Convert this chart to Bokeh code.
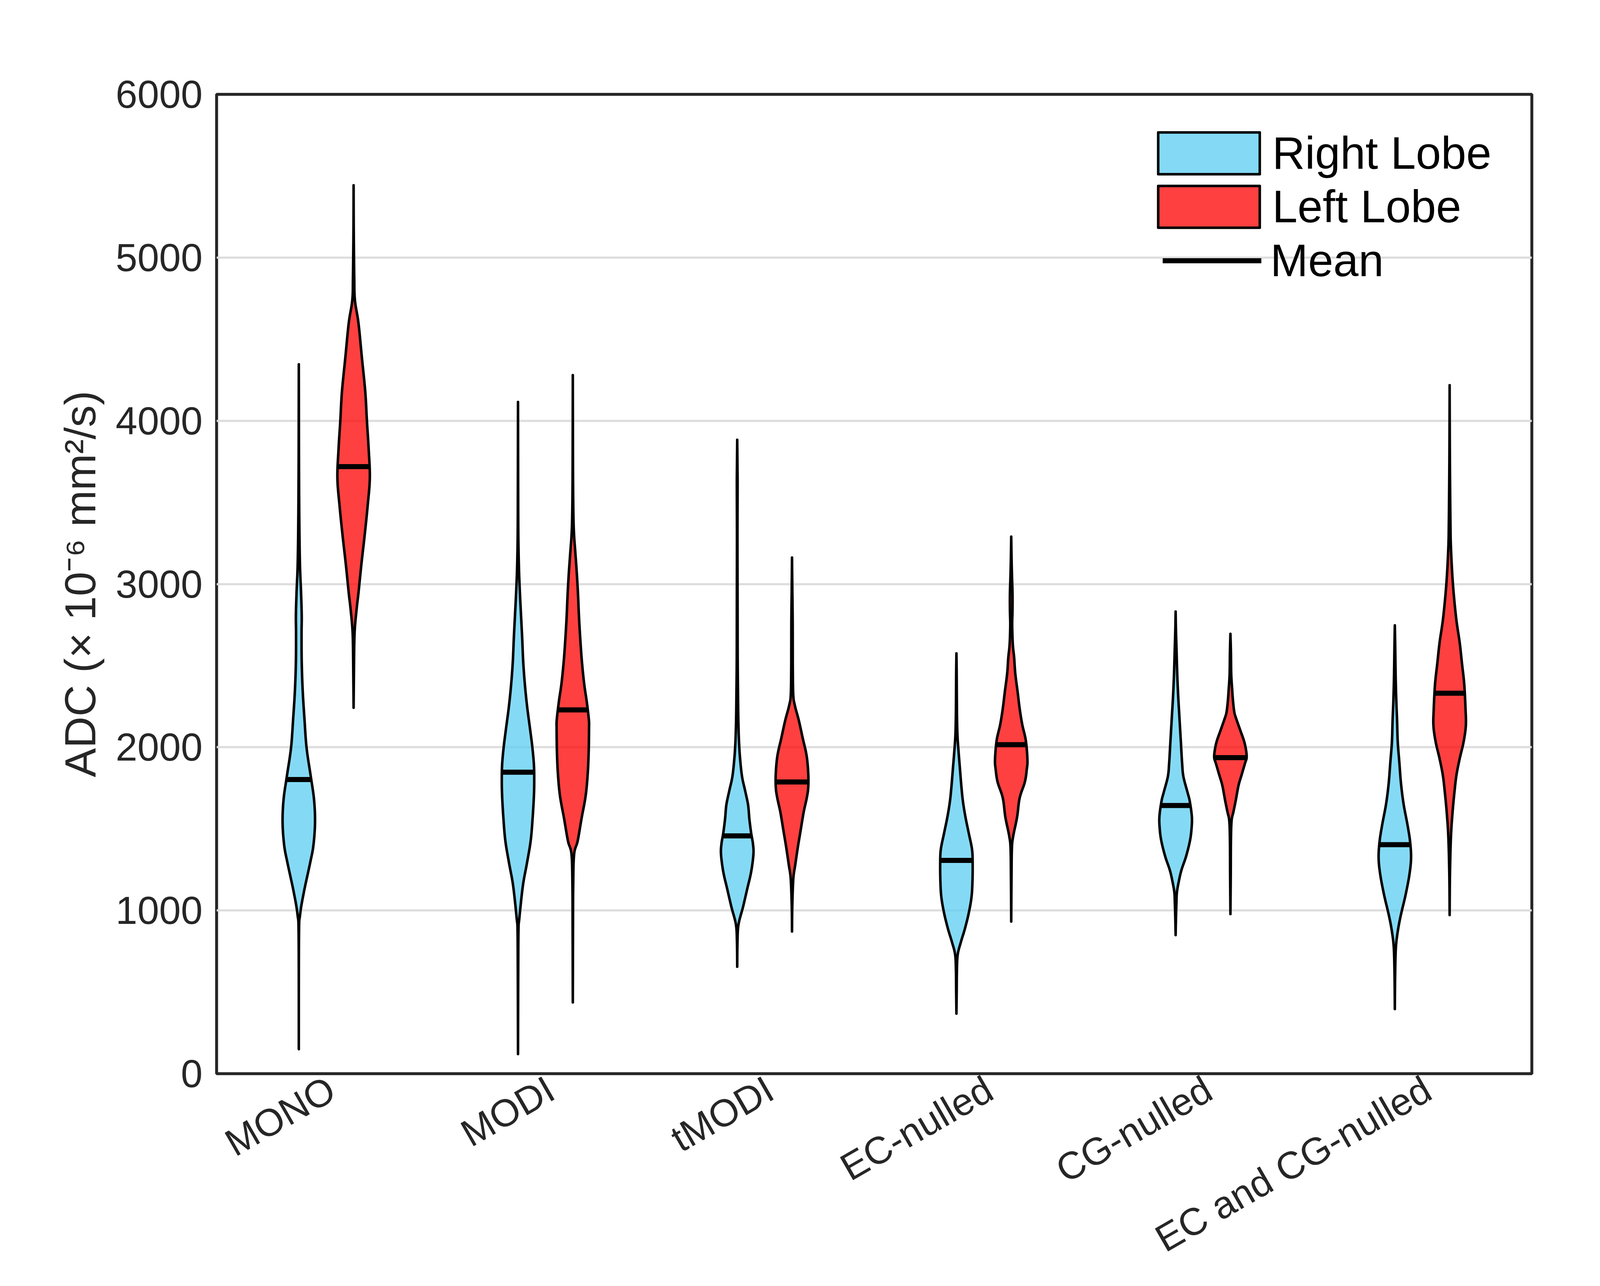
import math
import numpy as np
from bokeh.plotting import figure
from bokeh.models import Range1d, FixedTicker, Legend, LegendItem
from bokeh.embed import file_html
from bokeh.resources import INLINE

# ---------------- data ----------------
categories = ["MONO", "MODI", "tMODI", "EC-nulled", "CG-nulled", "EC and CG-nulled"]
positions = [1, 2, 3, 4, 5, 6]

right_means = [1802, 1847, 1457, 1307, 1643, 1403]
left_means = [3719, 2229, 1787, 2016, 1936, 2331]

# violin outlines: ADC values and relative density (1 = widest point)
right_lobe_adc = [
    [150, 835, 975, 1116, 1292, 1398, 1538, 1679, 1820, 1996, 2172, 2347, 2523, 2699, 2805, 2945, 3086, 3227, 3403, 3614, 3825, 4106, 4346],
    [120, 600, 880, 950, 1151, 1289, 1426, 1564, 1701, 1798, 1894, 2004, 2114, 2251, 2389, 2526, 2664, 2801, 2939, 3076, 3214, 3351, 3626, 4115],
    [655, 806, 914, 1022, 1129, 1237, 1345, 1409, 1474, 1560, 1647, 1733, 1819, 1927, 2034, 2164, 2315, 2530, 2853, 3284, 3608, 3716, 3884],
    [368, 495, 632, 730, 808, 887, 984, 1082, 1180, 1297, 1376, 1474, 1571, 1669, 1767, 1865, 1963, 2061, 2159, 2315, 2452, 2575],
    [849, 948, 1050, 1112, 1180, 1248, 1330, 1425, 1500, 1575, 1670, 1725, 1820, 1902, 2038, 2174, 2311, 2447, 2583, 2719, 2831],
    [396, 586, 764, 865, 967, 1094, 1220, 1322, 1423, 1525, 1652, 1778, 1905, 2032, 2159, 2286, 2438, 2615, 2747],
]
right_lobe_density = [
    [0, 0.01, 0.08, 0.32, 0.70, 0.90, 1.0, 0.94, 0.74, 0.48, 0.35, 0.24, 0.18, 0.17, 0.18, 0.14, 0.08, 0.05, 0.03, 0.016, 0.008, 0.004, 0],
    [0, 0.012, 0.03, 0.08, 0.30, 0.55, 0.78, 0.90, 0.98, 1.0, 0.98, 0.88, 0.74, 0.56, 0.42, 0.32, 0.26, 0.19, 0.12, 0.064, 0.032, 0.016, 0.008, 0],
    [0, 0.016, 0.08, 0.36, 0.61, 0.86, 1.0, 0.97, 0.86, 0.75, 0.67, 0.49, 0.30, 0.18, 0.11, 0.07, 0.05, 0.03, 0.024, 0.016, 0.024, 0.016, 0],
    [0, 0.016, 0.03, 0.08, 0.28, 0.52, 0.76, 0.93, 0.99, 1.0, 0.96, 0.76, 0.56, 0.40, 0.30, 0.22, 0.14, 0.07, 0.04, 0.024, 0.016, 0],
    [0, 0.02, 0.05, 0.08, 0.20, 0.36, 0.64, 0.88, 0.98, 1.0, 0.87, 0.73, 0.48, 0.40, 0.32, 0.24, 0.16, 0.10, 0.06, 0.02, 0],
    [0, 0.016, 0.06, 0.17, 0.36, 0.66, 0.90, 1.0, 0.94, 0.78, 0.54, 0.38, 0.28, 0.18, 0.14, 0.09, 0.05, 0.024, 0],
]
left_lobe_adc = [
    [2242, 2453, 2629, 2734, 2860, 2945, 3121, 3297, 3473, 3649, 3825, 4001, 4177, 4388, 4599, 4740, 4880, 5162, 5443],
    [437, 877, 1151, 1344, 1426, 1564, 1701, 1839, 1976, 2114, 2169, 2279, 2389, 2526, 2664, 2801, 2939, 3076, 3214, 3296, 3406, 3626, 4038, 4280],
    [871, 1022, 1194, 1280, 1388, 1496, 1603, 1690, 1754, 1841, 1948, 2056, 2164, 2250, 2315, 2466, 2638, 2789, 2961, 3162],
    [932, 1180, 1376, 1454, 1571, 1689, 1787, 1865, 1924, 2041, 2139, 2237, 2335, 2452, 2550, 2628, 2746, 2843, 2941, 3039, 3137, 3290],
    [978, 1221, 1425, 1548, 1602, 1670, 1766, 1834, 1902, 1936, 1984, 2038, 2106, 2174, 2215, 2283, 2351, 2447, 2583, 2695],
    [972, 1220, 1449, 1601, 1728, 1829, 1930, 2032, 2133, 2235, 2387, 2514, 2641, 2793, 3004, 3224, 3376, 3630, 3884, 4218],
]
left_lobe_density = [
    [0, 0.02, 0.04, 0.08, 0.20, 0.30, 0.48, 0.68, 0.86, 1.0, 0.93, 0.82, 0.72, 0.51, 0.30, 0.08, 0.04, 0.01, 0],
    [0, 0.012, 0.024, 0.08, 0.30, 0.54, 0.79, 0.92, 0.98, 1.0, 0.99, 0.86, 0.70, 0.56, 0.46, 0.38, 0.32, 0.24, 0.14, 0.08, 0.04, 0.016, 0.004, 0],
    [0, 0.016, 0.08, 0.20, 0.36, 0.54, 0.72, 0.91, 1.0, 1.0, 0.90, 0.66, 0.42, 0.19, 0.08, 0.05, 0.045, 0.04, 0.02, 0],
    [0, 0.016, 0.04, 0.12, 0.36, 0.52, 0.84, 0.96, 1.0, 0.90, 0.68, 0.52, 0.40, 0.25, 0.18, 0.10, 0.06, 0.08, 0.08, 0.05, 0.025, 0],
    [0, 0.02, 0.03, 0.07, 0.18, 0.32, 0.50, 0.70, 0.90, 1.0, 0.96, 0.84, 0.60, 0.36, 0.24, 0.16, 0.11, 0.05, 0.03, 0],
    [0, 0.02, 0.08, 0.18, 0.30, 0.42, 0.62, 0.86, 1.0, 0.98, 0.90, 0.76, 0.62, 0.40, 0.20, 0.08, 0.05, 0.025, 0.01, 0],
]

# ---------------- styling constants ----------------
OFFSET = 0.125        # dodge of each lobe from the category centre
HALF_WIDTH = 0.074    # half width of the widest point of every violin
LABEL_SHIFT = 0.025   # nudge of the (invisible) x ticks so rotated labels sit like the original
RIGHT_COLOR = "#5BCDF1"
LEFT_COLOR = "#FF0000"
FONT = "Liberation Sans"
DARK = "#262626"


def smooth_profile(ys, ws, n=12):
    """Catmull-Rom pass through the read points for a smooth outline."""
    pts = np.column_stack([np.asarray(ys, float), np.asarray(ws, float)])
    m = len(pts)
    out = []
    for i in range(m - 1):
        p0 = pts[max(i - 1, 0)]
        p1 = pts[i]
        p2 = pts[i + 1]
        p3 = pts[min(i + 2, m - 1)]
        for t in np.linspace(0, 1, n, endpoint=False):
            q = 0.5 * ((2 * p1) + (-p0 + p2) * t + (2 * p0 - 5 * p1 + 4 * p2 - p3) * t ** 2
                       + (-p0 + 3 * p1 - 3 * p2 + p3) * t ** 3)
            out.append(q)
    out.append(pts[-1])
    out = np.array(out)
    out[:, 1] = np.clip(out[:, 1], 0, None)
    return out[:, 0], out[:, 1]


def violins(adc_lists, dens_lists, means, shift):
    xs, ys, mx0, mx1, my = [], [], [], [], []
    for pos, adc, dens, mean in zip(positions, adc_lists, dens_lists, means):
        c = pos + shift
        y, w = smooth_profile(adc, dens)
        hw = w * HALF_WIDTH
        xs.append(np.concatenate([c - hw, (c + hw)[::-1]]))
        ys.append(np.concatenate([y, y[::-1]]))
        mhw = float(np.interp(mean, y, w)) * HALF_WIDTH
        mx0.append(c - mhw)
        mx1.append(c + mhw)
        my.append(mean)
    return xs, ys, mx0, mx1, my


r_xs, r_ys, r_mx0, r_mx1, r_my = violins(right_lobe_adc, right_lobe_density, right_means, -OFFSET)
l_xs, l_ys, l_mx0, l_mx1, l_my = violins(left_lobe_adc, left_lobe_density, left_means, OFFSET)

# ---------------- figure ----------------
p = figure(width=4317, height=3276,
           x_range=Range1d(0.5, 6.5), y_range=Range1d(0, 6000),
           output_backend="svg", toolbar_location=None,
           min_border_left=554, min_border_top=241,
           min_border_right=396, min_border_bottom=508)

p.background_fill_color = "white"
p.border_fill_color = "white"
p.outline_line_color = DARK
p.outline_line_width = 7.5

p.xgrid.visible = False
p.ygrid.grid_line_color = "#dddddd"
p.ygrid.grid_line_width = 5.5

r_right = p.patches(r_xs, r_ys, fill_color=RIGHT_COLOR, fill_alpha=0.75,
                    line_color="black", line_width=6.5, line_join="round")
r_left = p.patches(l_xs, l_ys, fill_color=LEFT_COLOR, fill_alpha=0.75,
                   line_color="black", line_width=6.5, line_join="round")
r_mean = p.segment(x0=r_mx0 + l_mx0, x1=r_mx1 + l_mx1, y0=r_my + l_my, y1=r_my + l_my,
                   line_color="black", line_width=13)

# axes
tick_pos = [pos + LABEL_SHIFT for pos in positions]
p.xaxis.ticker = FixedTicker(ticks=tick_pos)
p.xaxis.major_label_overrides = {t: name for t, name in zip(tick_pos, categories)}
p.xaxis.major_label_orientation = math.pi / 6
p.yaxis.ticker = FixedTicker(ticks=[0, 1000, 2000, 3000, 4000, 5000, 6000])

for ax in (p.xaxis[0], p.yaxis[0]):
    ax.axis_line_color = None
    ax.major_tick_line_color = None
    ax.minor_tick_line_color = None
    ax.major_tick_out = 0
    ax.major_tick_in = 0
    ax.minor_tick_out = 0
    ax.minor_tick_in = 0
    ax.major_label_text_font = FONT
    ax.major_label_text_color = DARK

p.yaxis.major_label_text_font_size = "100px"
p.xaxis.major_label_text_font_size = "98px"
p.yaxis.major_label_standoff = 36
p.xaxis.major_label_standoff = 32

p.yaxis.axis_label = "ADC (\u00d7 10\u207b\u2076 mm\u00b2/s)"
p.yaxis.axis_label_text_font = FONT
p.yaxis.axis_label_text_font_size = "112px"
p.yaxis.axis_label_text_font_style = "normal"
p.yaxis.axis_label_text_color = DARK
p.yaxis.axis_label_standoff = 25

# legends (two, so the mean line can be as long as the patches);
# both hang from the top-right corner of the frame
leg1 = Legend(items=[LegendItem(label="Right Lobe", renderers=[r_right]),
                     LegendItem(label="Left Lobe", renderers=[r_left])],
              location="top_right")
leg2 = Legend(items=[LegendItem(label="Mean", renderers=[r_mean])],
              location="top_right")
for lg, gw, so, mg, lw in ((leg1, 325, -8, 84, 580), (leg2, 253, 23, 359, 310)):
    lg.glyph_width = gw
    lg.glyph_height = 134
    lg.label_height = 134
    lg.label_width = lw
    lg.label_standoff = so
    lg.spacing = 3
    lg.padding = 0
    lg.margin = mg
    lg.border_line_color = None
    lg.background_fill_alpha = 0
    lg.label_text_font = FONT
    lg.label_text_font_size = "116px"
    lg.label_text_color = "black"
    p.add_layout(lg)

open("out.html", "w").write(file_html(p, INLINE))
